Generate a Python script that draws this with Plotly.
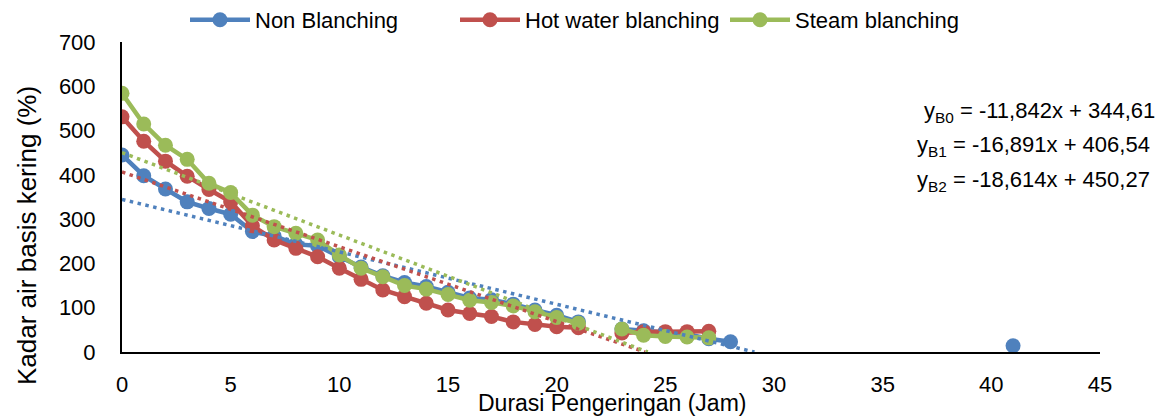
import plotly.graph_objects as go

# Durasi pengeringan (jam)
hours = list(range(0, 28))  # 0..27
hours_blue = list(range(0, 30)) + [41]  # gap at 29, isolated point at 41

non_blanching = [445, 398, 368, 339, 324, 311, 272, 262, 243, 240, 215, 192, 172, 157,
                 148, 135, 122, 118, 108, 95, 83, 68, None, 52, 48, 44, 40, 30, 23, None, 14]
hot_water = [531, 476, 431, 397, 367, 339, 285, 253, 234, 215, 189, 164, 140, 125,
             110, 95, 87, 80, 68, 62, 57, 55, None, 43, 46, 46, 46, 47]
steam = [584, 515, 467, 435, 381, 360, 309, 283, 268, 253, 219, 189, 170, 150,
         142, 130, 117, 112, 104, 91, 78, 65, None, 52, 38, 35, 34, 32]

series_names = ["Non Blanching", "Hot water blanching", "Steam blanching"]
colors = ["#4F81BD", "#C0504D", "#9BBB59"]

# Linear trendline coefficients (slope, intercept)
slopes = [-11.842, -16.891, -18.614]
intercepts = [344.61, 406.54, 450.27]
eq_labels = ["y<sub>B0</sub> = -11,842x + 344,61",
             "y<sub>B1</sub> = -16,891x + 406,54",
             "y<sub>B2</sub> = -18,614x + 450,27"]

x_ticks = [0, 5, 10, 15, 20, 25, 30, 35, 40, 45]
y_ticks = [0, 100, 200, 300, 400, 500, 600, 700]

FONT = "Liberation Sans, Arial, sans-serif"
OFF = 8  # page body margin
W, H = 1169 - OFF, 417 - OFF
L, T = 122 - OFF, 42 - OFF
R = 69
B = H - (352 - OFF)
PW, PH = W - L - R, H - T - B


def px(xpage):
    return (xpage - OFF - L) / PW


def py(ypage):
    return (H - B - (ypage - OFF)) / PH


fig = go.Figure()
xs = [hours_blue, hours, hours]
ys = [non_blanching, hot_water, steam]
for name, c, x, y in zip(series_names, colors, xs, ys):
    fig.add_trace(go.Scatter(x=x, y=y, name=name, mode="lines+markers",
                             line=dict(color=c, width=4.5),
                             marker=dict(color=c, size=15),
                             connectgaps=False))

# trendlines, drawn over the data
for c, m, b, x in zip(colors, slopes, intercepts, xs):
    xmax = max(x)
    xend = min(xmax, -b / m)
    n = 60
    tx = [xend * i / n for i in range(n + 1)]
    ty = [m * t + b for t in tx]
    fig.add_trace(go.Scatter(x=tx, y=ty, mode="lines", showlegend=False,
                             hoverinfo="skip",
                             line=dict(color=c, width=3.5, dash="3.5px,4.5px")))

eq_y_px = [112, 146, 181]
eq_x_px = [1157, 1152, 1152]
for lab, ypg, xpg in zip(eq_labels, eq_y_px, eq_x_px):
    fig.add_annotation(text=lab, xref="paper", yref="paper",
                       x=px(xpg), y=py(ypg),
                       xanchor="right", yanchor="middle", showarrow=False,
                       font=dict(size=22, color="black", family=FONT))

fig.add_annotation(text="Durasi Pengeringan (Jam)", xref="paper", yref="paper",
                   x=px(612), y=py(403), xanchor="center",
                   yanchor="middle", showarrow=False,
                   font=dict(size=23, color="black", family=FONT))
fig.add_annotation(text="Kadar air basis kering (%)", xref="paper", yref="paper",
                   x=px(27), y=py(236), xanchor="center",
                   yanchor="middle", textangle=-90, showarrow=False,
                   font=dict(size=26, color="black", family=FONT))

fig.update_layout(
    width=W, height=H,
    margin=dict(l=L, r=R, t=T, b=B, autoexpand=False),
    paper_bgcolor="white", plot_bgcolor="white",
    font=dict(family=FONT, size=22, color="black"),
    showlegend=True,
    legend=dict(orientation="h", x=px(590), xanchor="center",
                yref="container", y=1 - (20 - OFF) / H, yanchor="middle",
                font=dict(size=22, family=FONT),
                bgcolor="rgba(0,0,0,0)", itemwidth=60, entrywidth=195),
    xaxis=dict(range=[0, 45], tickvals=x_ticks, showgrid=False, zeroline=False,
               showline=True, linecolor="black", linewidth=2, ticks="",
               ticklabelstandoff=12, tickfont=dict(size=22), automargin=False),
    yaxis=dict(range=[0, 700], tickvals=y_ticks, showgrid=False, zeroline=False,
               showline=True, linecolor="black", linewidth=2, ticks="",
               ticklabelstandoff=20, tickfont=dict(size=22), automargin=False),
)

fig.write_html("out.html")
